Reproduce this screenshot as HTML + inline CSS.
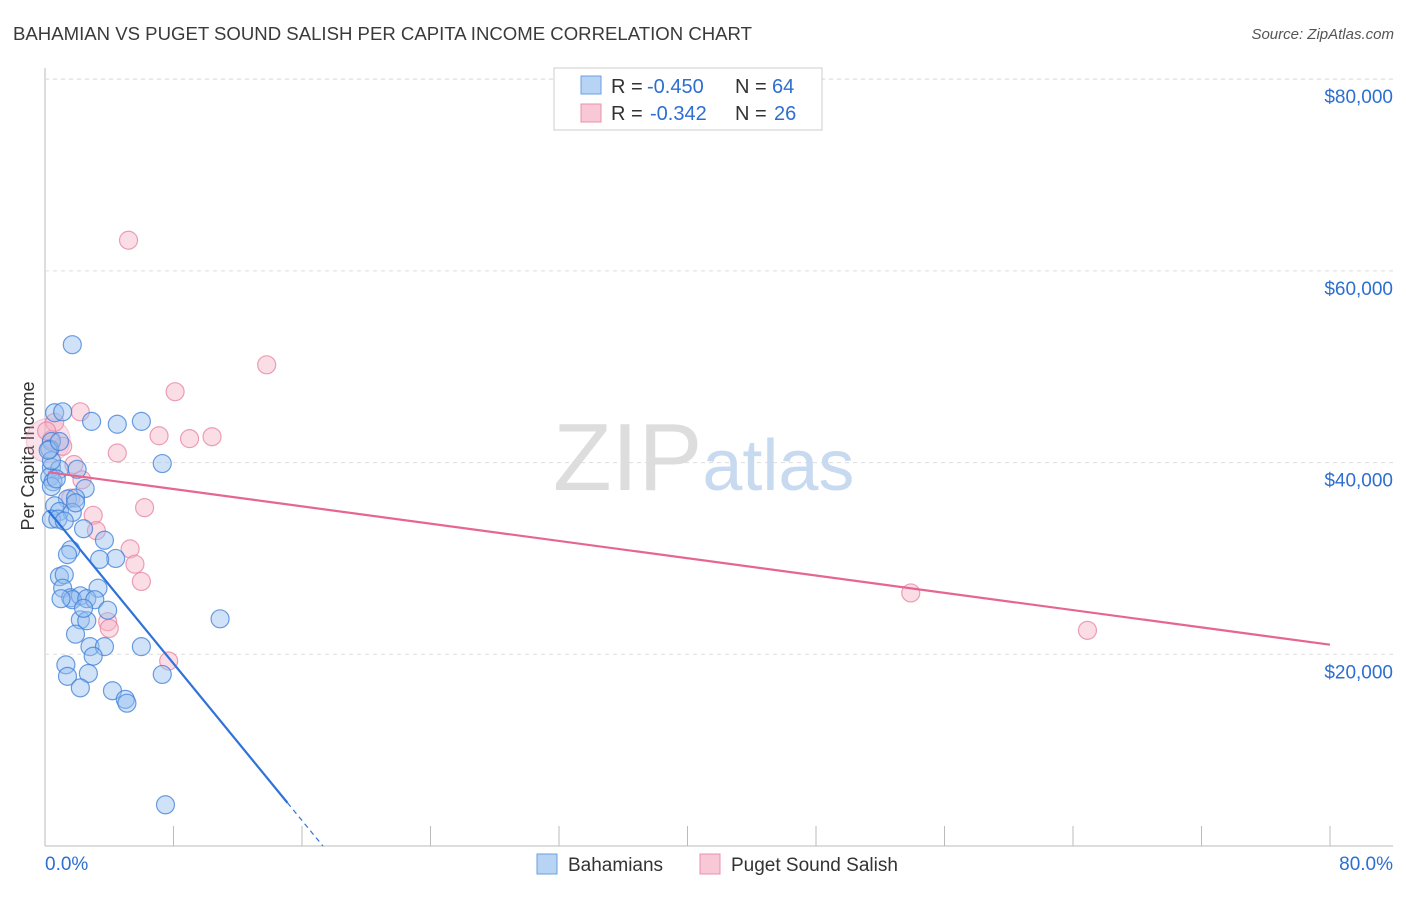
<!DOCTYPE html>
<html><head><meta charset="utf-8"><style>
body{margin:0;background:#fff;font-family:"Liberation Sans",sans-serif;}
svg text{font-family:"Liberation Sans",sans-serif;}
</style></head><body>
<svg id="chart" width="1406" height="892" xmlns="http://www.w3.org/2000/svg">
<text x="13" y="40" font-size="18" fill="#3a3a3a" textLength="739" lengthAdjust="spacingAndGlyphs">BAHAMIAN VS PUGET SOUND SALISH PER CAPITA INCOME CORRELATION CHART</text>
<text x="1394" y="39" font-size="15" fill="#555" font-style="italic" text-anchor="end">Source: ZipAtlas.com</text>
<text transform="translate(34,456) rotate(-90)" font-size="18" fill="#333" text-anchor="middle">Per Capita Income</text>
<g id="grid"></g>
<text x="553" y="490" font-size="96" fill="#ddd" font-family="Liberation Serif">ZIP<tspan fill="#c8daf0" font-family="Liberation Sans" font-size="72">atlas</tspan></text>
<g id="marks"></g>
<g>
<rect x="554" y="68" width="268" height="62" fill="#fff" stroke="#ccc"/>
<rect x="581" y="76" width="20" height="18" fill="#b8d4f5" stroke="#6a9fe0"/>
<rect x="581" y="104" width="20" height="18" fill="#f9c8d6" stroke="#e890ab"/>
<text x="611" y="93" font-size="20" fill="#333">R =</text>
<text x="647" y="93" font-size="20" fill="#2d6fd0">-0.450</text>
<text x="735" y="93" font-size="20" fill="#333">N =</text>
<text x="772" y="93" font-size="20" fill="#2d6fd0">64</text>
<text x="611" y="120" font-size="20" fill="#333">R =</text>
<text x="650" y="120" font-size="20" fill="#2d6fd0">-0.342</text>
<text x="735" y="120" font-size="20" fill="#333">N =</text>
<text x="774" y="120" font-size="20" fill="#2d6fd0">26</text>
</g>
<g>
<rect x="537" y="854" width="20" height="20" fill="#b8d4f5" stroke="#6a9fe0"/>
<text x="568" y="871" font-size="19" fill="#333">Bahamians</text>
<rect x="700" y="854" width="20" height="20" fill="#f9c8d6" stroke="#e890ab"/>
<text x="731" y="871" font-size="19" fill="#333">Puget Sound Salish</text>
</g>
</svg>
<script>
const xTicks=[0,8,16,24,32,40,48,56,64,72,80];
const yTicks=[20000,40000,60000,80000];
const yTickLabels=["$20,000","$40,000","$60,000","$80,000"];
const blueX=[1.7,0.6,1.1,2.9,4.5,6.0,7.3,0.4,0.3,0.4,0.9,2.0,0.3,0.5,0.4,2.5,1.4,1.9,0.6,0.9,0.4,1.7,0.8,2.4,3.7,1.6,1.4,4.4,0.9,1.2,1.1,3.3,1.6,2.2,1.7,2.6,3.1,3.9,2.2,2.6,1.9,10.9,2.8,3.7,6.0,3.0,1.3,1.4,2.7,7.3,2.2,4.2,5.0,5.1,7.5,0.4,0.7,0.2,0.9,1.2,1.9,3.4,2.4,1.0];
const blueY=[52300,45200,45300,44300,44000,44300,39900,42200,41400,39500,39300,39300,38500,38000,37500,37300,36200,36300,35500,34900,34100,34800,34100,33100,31900,30900,30400,30000,28100,28300,26900,26900,25900,26100,25700,25800,25700,24600,23600,23500,22100,23700,20800,20800,20800,19800,18900,17700,18000,17900,16500,16200,15300,14900,4300,40200,38300,41300,42200,33900,35800,29900,24800,25800];
const pinkX=[5.2,13.8,8.1,2.2,7.1,9.0,10.4,4.5,0.6,0.4,1.1,1.8,2.3,6.2,3.0,3.2,5.3,5.6,6.0,3.9,4.0,7.7,53.9,64.9,0.1,1.6];
const pinkY=[63200,50200,47400,45300,42800,42500,42700,41000,44200,42400,41700,39800,38200,35300,34500,32900,31000,29400,27600,23400,22700,19300,26400,22500,43300,36300];
const X0=45,X1=1330,Y0=846,PX=(X1-X0)/80,PY=191.7/20000;
const sx=v=>X0+v*PX, sy=v=>Y0-v*PY;
const NS="http://www.w3.org/2000/svg";
const grid=document.getElementById('grid'),marks=document.getElementById('marks');
function mk(tag,attrs,parent){const e=document.createElementNS(NS,tag);for(const k in attrs)e.setAttribute(k,attrs[k]);parent.appendChild(e);return e;}
let ax=mk('line',{x1:X0,y1:68,x2:X0,y2:846,stroke:'#bbb'},grid);


let bx=mk('line',{x1:X0,y1:846,x2:1393,y2:846,stroke:'#bbb'},grid);


mk('line',{x1:X0,y1:79,x2:1393,y2:79,stroke:'#ddd','stroke-dasharray':'4,4'},grid);
yTicks.forEach((t,i)=>{
 const g=mk('line',{x1:X0,y1:sy(t),x2:1393,y2:sy(t),stroke:'#ddd','stroke-dasharray':'4,4'},grid);
 
 
 const tx=mk('text',{x:1393,y:sy(t)+24,'font-size':19,fill:'#2d6fd0','text-anchor':'end'},grid);
 tx.textContent=yTickLabels[i];
 
 
});
xTicks.forEach(t=>{
 if(t===0)return;
 const l=mk('line',{x1:sx(t),y1:826,x2:sx(t),y2:846,stroke:'#bbb'},grid);
 
 
});
const xl0=mk('text',{x:45,y:870,'font-size':19,fill:'#2d6fd0'},grid);xl0.textContent='0.0%';


const xl1=mk('text',{x:1393,y:870,'font-size':19,fill:'#2d6fd0','text-anchor':'end'},grid);xl1.textContent='80.0%';


const big=mk('circle',{cx:sx(0.2),cy:sy(42300),r:22,fill:'rgba(240,160,185,0.3)',stroke:'rgba(230,140,170,0.4)'},marks);


pinkX.forEach((v,i)=>{
 const c=mk('circle',{cx:sx(v),cy:sy(pinkY[i]),r:9,fill:'rgba(246,180,200,0.45)',stroke:'rgba(230,130,160,0.75)','stroke-width':1.2},marks);
 
 
});
blueX.forEach((v,i)=>{
 const c=mk('circle',{cx:sx(v),cy:sy(blueY[i]),r:9,fill:'rgba(150,190,240,0.45)',stroke:'rgba(60,125,215,0.75)','stroke-width':1.2},marks);
 
 
});
const bl=mk('line',{x1:sx(0.2),y1:sy(35000),x2:sx(15.1),y2:sy(4500),stroke:'#2f72d8','stroke-width':2.2},marks);


const bd=mk('line',{x1:sx(15.1),y1:sy(4500),x2:sx(17.3),y2:sy(0),stroke:'#2f72d8','stroke-width':1.2,'stroke-dasharray':'5,4'},marks);


const pl=mk('line',{x1:sx(0.2),y1:sy(39000),x2:sx(80),y2:sy(21000),stroke:'#e5668f','stroke-width':2.2},marks);


</script>
</body></html>
